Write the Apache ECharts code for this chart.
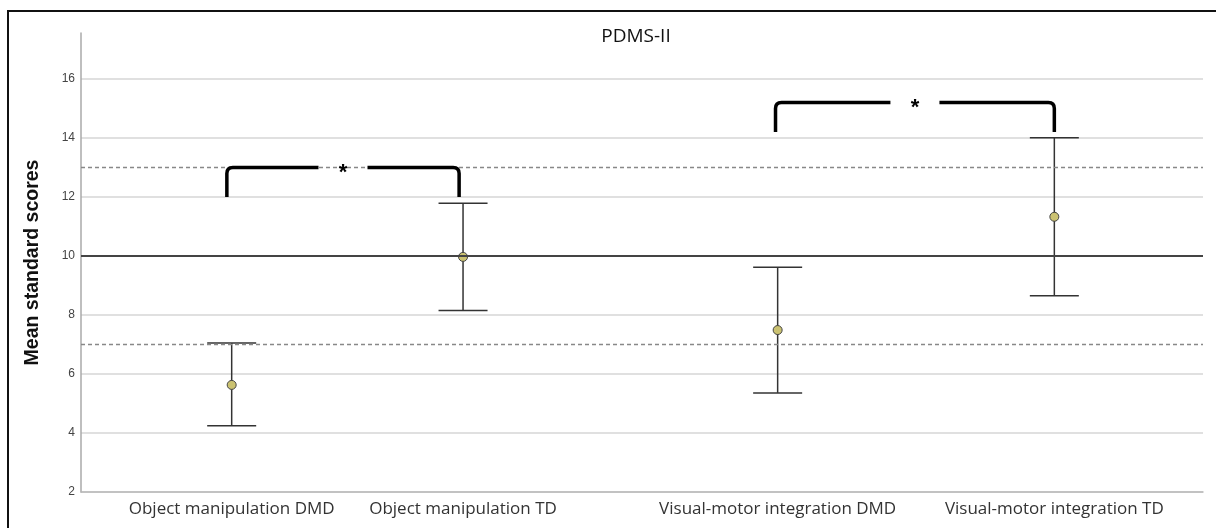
<!DOCTYPE html>
<html>
<head>
<meta charset="utf-8">
<script src="https://cdn.jsdelivr.net/npm/echarts@6/dist/echarts.min.js"></script>
<style>
  html, body { margin: 0; padding: 0; background: #fff; }
  #frame { position: absolute; left: 7px; top: 10px; width: 1220px; height: 530px; border-left: 2px solid #111; border-top: 2px solid #111; box-sizing: border-box; }
  #chart { position: absolute; left: 0; top: 0; width: 1216px; height: 528px; }
</style>
</head>
<body>
<div id="frame"></div>
<div id="chart"></div>
<script>
// groups along the x axis (uneven spacing)
const categories = ['Object manipulation DMD', 'Object manipulation TD', 'Visual-motor integration DMD', 'Visual-motor integration TD']
const xPos = [13.43, 34.05, 62.09, 86.75]
const means = [5.63, 9.97, 7.49, 11.33]
const upper = [7.05, 11.79, 9.62, 14.01]
const lower = [4.25, 8.15, 5.36, 8.65]

// reference lines
const normLine = 10
const bandLines = [13, 7]

// significance brackets
const bracketFrom = [13.0, 61.9]
const bracketTo = [33.7, 86.75]
const bracketLow = [12.0, 14.2]
const bracketHigh = [13.0, 15.2]
const bracketLabel = ['*', '*']

const chart = echarts.init(document.getElementById('chart'))

const errData = categories.map((c, i) => [xPos[i], lower[i], upper[i]])
const meanData = categories.map((c, i) => [xPos[i], means[i]])
const bracketData = bracketFrom.map((x, i) => [x, bracketTo[i], bracketLow[i], bracketHigh[i], bracketLabel[i]])

const option = {
    animation: false,
    title: {
        text: 'PDMS-II',
        left: 631,
        top: 22,
        textAlign: 'center',
        textStyle: { fontFamily: 'Open Sans', fontSize: 19, fontWeight: 'normal', color: '#111' }
    },
    grid: { left: 81, right: 13, top: 33, bottom: 36 },
    xAxis: {
        type: 'value',
        min: 0,
        max: 100,
        splitLine: { show: false },
        axisLine: { show: true, lineStyle: { color: '#b8b8b8', width: 1.5 } },
        axisTick: { show: false },
        axisLabel: {
            customValues: xPos,
            margin: 9,
            fontFamily: 'Open Sans',
            fontSize: 17,
            color: '#333',
            formatter: v => {
                const i = xPos.indexOf(v)
                return i >= 0 ? categories[i] : ''
            }
        }
    },
    yAxis: {
        type: 'value',
        min: 2,
        max: 17.56,
        interval: 2,
        name: 'Mean standard scores',
        nameLocation: 'middle',
        nameGap: 38,
        nameTextStyle: { fontFamily: 'Liberation Sans', fontWeight: 'bold', fontSize: 19.5, color: '#111' },
        axisLine: { show: true, lineStyle: { color: '#aaa', width: 1.5 } },
        axisTick: { show: false },
        axisLabel: { showMaxLabel: false, fontFamily: 'Liberation Sans', fontSize: 12, color: '#444', margin: 6 },
        splitLine: { showMaxLine: false, lineStyle: { color: '#d6d6d6', width: 1.5 } }
    },
    series: [
        {
            type: 'custom',
            name: 'ci',
            data: errData,
            z: 3,
            renderItem: (params, api) => {
                const lo = api.coord([api.value(0), api.value(1)])
                const hi = api.coord([api.value(0), api.value(2)])
                const half = 24.5
                const style = { stroke: '#333', lineWidth: 1.5 }
                return {
                    type: 'group',
                    children: [
                        { type: 'line', shape: { x1: lo[0], y1: lo[1], x2: hi[0], y2: hi[1] }, style },
                        { type: 'line', shape: { x1: lo[0] - half, y1: lo[1], x2: lo[0] + half, y2: lo[1] }, style },
                        { type: 'line', shape: { x1: hi[0] - half, y1: hi[1], x2: hi[0] + half, y2: hi[1] }, style }
                    ]
                }
            },
            markLine: {
                silent: true,
                symbol: 'none',
                label: { show: false },
                data: [
                    { yAxis: normLine, lineStyle: { color: '#444', width: 2, type: 'solid' } },
                    ...bandLines.map(v => ({ yAxis: v, lineStyle: { color: '#888', width: 1.3, type: [4, 3] } }))
                ]
            }
        },
        {
            type: 'scatter',
            name: 'mean',
            data: meanData,
            z: 4,
            symbol: 'circle',
            symbolSize: 9,
            itemStyle: { color: '#cbc271', borderColor: '#444', borderWidth: 1, opacity: 1 }
        },
        {
            type: 'custom',
            name: 'brackets',
            data: bracketData,
            z: 5,
            renderItem: (params, api) => {
                const x1 = api.value(0), x2 = api.value(1)
                const a = api.coord([x1, api.value(2)])
                const b = api.coord([x1, api.value(3)])
                const c = api.coord([x2, api.value(3)])
                const d = api.coord([x2, api.value(2)])
                const mid = (b[0] + c[0]) / 2
                const gap = 24.5
                const r = 6
                const style = { stroke: '#000', lineWidth: 3.5, fill: null }
                return {
                    type: 'group',
                    children: [
                        {
                            type: 'path',
                            shape: { pathData: `M${a[0]} ${a[1]} L${b[0]} ${b[1] + r} Q${b[0]} ${b[1]} ${b[0] + r} ${b[1]} L${mid - gap} ${b[1]}` },
                            style
                        },
                        {
                            type: 'path',
                            shape: { pathData: `M${mid + gap} ${c[1]} L${c[0] - r} ${c[1]} Q${c[0]} ${c[1]} ${c[0]} ${c[1] + r} L${d[0]} ${d[1]}` },
                            style
                        },
                        {
                            type: 'text',
                            style: {
                                text: api.value(4), x: mid, y: b[1] + 5,
                                align: 'center', verticalAlign: 'middle',
                                font: 'bold 22px "Liberation Sans"', fill: '#000'
                            }
                        }
                    ]
                }
            }
        }
    ]
}

chart.setOption(option)
</script>
</body>
</html>
